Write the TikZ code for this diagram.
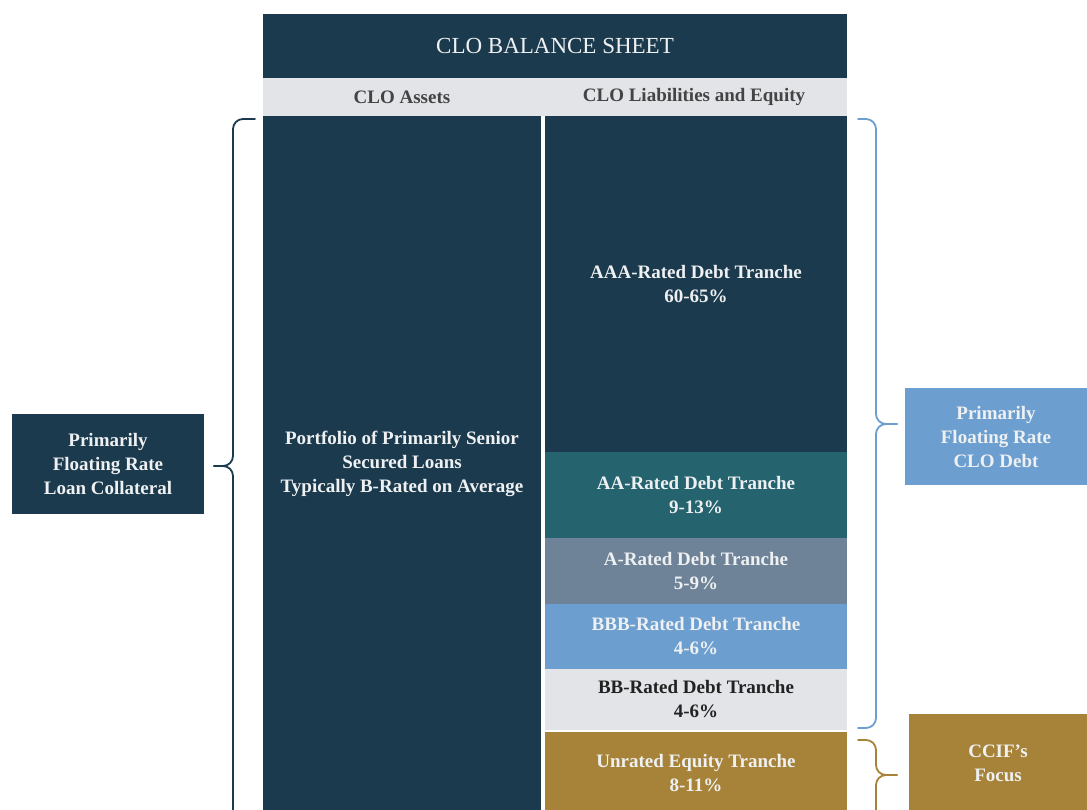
\documentclass[tikz,border=0pt]{standalone}
\usepackage{fontspec}
\setmainfont{Liberation Serif}
\usetikzlibrary{positioning}
\definecolor{cloNavy}{HTML}{1B3A4D}
\definecolor{cloTeal}{HTML}{25636E}
\definecolor{cloSlate}{HTML}{6E8398}
\definecolor{cloSky}{HTML}{6C9FCF}
\definecolor{cloMist}{HTML}{E2E4E8}
\definecolor{cloGold}{HTML}{A68338}
\definecolor{hdrText}{HTML}{444444}
\definecolor{darkText}{HTML}{222222}
\definecolor{paleText}{HTML}{EEF0F2}

\begin{document}
\begin{tikzpicture}[x=1pt, y=-1pt,
  every node/.style={font=\bfseries\fontsize{19}{24}\selectfont},
  band/.style={rectangle, anchor=north west, inner sep=0pt, outer sep=0pt,
               align=center, text=paleText},
  hdr/.style={band, fill=cloMist, text=hdrText, minimum height=38pt},
  tranche/.style={band, minimum width=302pt},
  sidebox/.style={band},
  brace/.style={line width=1.8pt, rounded corners=10pt, line cap=round},
]
  \useasboundingbox (0,0) rectangle (1087,809);
  \clip (0,0) rectangle (1087,809);

  % ═══ Title and column headers ═══
  \node[band, fill=cloNavy, minimum width=584pt, minimum height=64pt,
        font=\fontsize{23}{27}\selectfont] at (263,14) (title) {CLO BALANCE SHEET};
  \node[hdr, minimum width=278pt] at (263,78) (hdrA) {CLO Assets};
  \node[hdr, minimum width=306pt, right=0pt of hdrA] (hdrL) {CLO Liabilities and Equity};

  % ═══ Assets column ═══
  \node[band, fill=cloNavy, minimum width=278pt, minimum height=696pt,
        below=0pt of hdrA] (assets)
        {Portfolio of Primarily Senior\\Secured Loans\\Typically B-Rated on Average};

  % ═══ Liabilities stack, top to bottom ═══
  \node[tranche, fill=cloNavy, minimum height=336pt, anchor=north east]
        at (hdrL.south east) (aaa) {AAA-Rated Debt Tranche\\60-65\%};
  \node[tranche, fill=cloTeal, minimum height=86pt, below=0pt of aaa] (aa)
        {AA-Rated Debt Tranche\\9-13\%};
  \node[tranche, fill=cloSlate, minimum height=66pt, below=0pt of aa] (arated)
        {A-Rated Debt Tranche\\5-9\%};
  \node[tranche, fill=cloSky, minimum height=65pt, below=0pt of arated] (bbb)
        {BBB-Rated Debt Tranche\\4-6\%};
  \node[tranche, fill=cloMist, text=darkText, minimum height=61pt, below=0pt of bbb] (bb)
        {BB-Rated Debt Tranche\\4-6\%};
  \node[tranche, fill=cloGold, minimum height=82pt, below=2pt of bb] (equity)
        {Unrated Equity Tranche\\8-11\%};

  % ═══ Side labels ═══
  \node[sidebox, fill=cloNavy, minimum width=192pt, minimum height=100pt]
        at (12,414) (loanlbl) {Primarily\\Floating Rate\\Loan Collateral};
  \node[sidebox, fill=cloSky, minimum width=182pt, minimum height=97pt]
        at (905,388) (debtlbl) {Primarily\\Floating Rate\\CLO Debt};
  \node[sidebox, fill=cloGold, minimum width=178pt, minimum height=98pt]
        at (909,714) (ccif) {CCIF's\\Focus};

  % ═══ Braces: end, spine point at the tip, tip ═══
  \coordinate (lb_top) at (255,119);
  \coordinate (lb_mid) at (233,466);
  \coordinate (lb_tip) at (214,466);
  \coordinate (lb_bot) at (233,840);

  \coordinate (rb_top) at (858,119);
  \coordinate (rb_mid) at (876,424);
  \coordinate (rb_tip) at (897,424);
  \coordinate (rb_bot) at (858,728);

  \coordinate (gb_top) at (858,740);
  \coordinate (gb_mid) at (876,775);
  \coordinate (gb_tip) at (897,775);
  \coordinate (gb_bot) at (876,840);

  \draw[brace, cloNavy] (lb_top) -| (lb_mid) -- (lb_tip);
  \draw[brace, cloNavy] (lb_tip) -- (lb_mid) -- (lb_bot);

  \draw[brace, cloSky] (rb_top) -| (rb_mid) -- (rb_tip);
  \draw[brace, cloSky] (rb_tip) -- (rb_mid) |- (rb_bot);

  \draw[brace, cloGold] (gb_top) -| (gb_mid) -- (gb_tip);
  \draw[brace, cloGold] (gb_tip) -- (gb_mid) -- (gb_bot);
\end{tikzpicture}
\end{document}
